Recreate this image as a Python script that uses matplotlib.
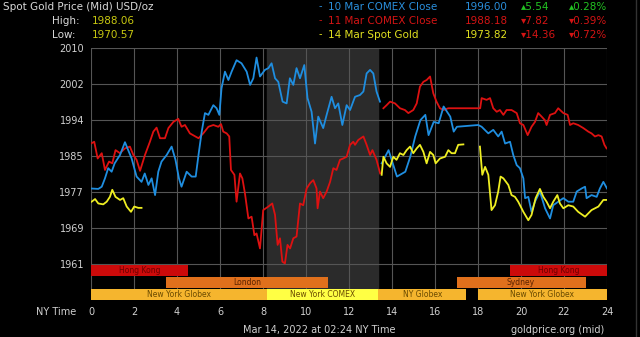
import numpy as np
import matplotlib
matplotlib.use('Agg')
import matplotlib.pyplot as plt

nan = np.nan

# 10 Mar COMEX close (hour NY time, USD/oz)
blue_pts = [
    (0, 1978.2), (0.34, 1978.1), (0.5, 1978.6), (0.65, 1980.5), (0.8, 1982.8), (0.96, 1982),
    (1.1, 1983.9), (1.35, 1985.8), (1.58, 1988.7), (1.73, 1986.9), (1.89, 1985), (2.12, 1980.9),
    (2.35, 1979.7), (2.5, 1981.6), (2.67, 1979), (2.82, 1980.5), (2.98, 1976.7), (3.13, 1982),
    (3.28, 1984.3), (3.52, 1985.8), (3.75, 1987.7), (3.93, 1984.7), (4.09, 1980.5), (4.21, 1978.6),
    (4.45, 1982), (4.68, 1980.9), (4.87, 1980.9), (5.0, 1985.8), (5.15, 1991.1), (5.3, 1995.3),
    (5.46, 1994.9), (5.69, 1997.1), (5.84, 1996.4), (5.97, 1994.9), (6.07, 2000.9), (6.23, 2004.7),
    (6.39, 2002.8), (6.54, 2004.7), (6.77, 2007.3), (7.0, 2006.6), (7.24, 2004.7), (7.4, 2001.7),
    (7.55, 2003.2), (7.7, 2007.9), (7.86, 2003.6), (8.09, 2005.1), (8.25, 2005.5), (8.4, 2006.6),
    (8.56, 2003.2), (8.71, 2002.4), (8.91, 1997.9), (9.1, 1997.5), (9.25, 2003.2), (9.41, 2001.7),
    (9.56, 2005.5), (9.72, 2003.2), (9.92, 2006.2), (10.07, 1998.7), (10.26, 1995.6), (10.42, 1988.4),
    (10.57, 1994.5), (10.8, 1991.9), (10.96, 1994.9), (11.19, 1999), (11.35, 1996.4), (11.5, 1997.5),
    (11.69, 1992.6), (11.89, 1997.1), (12.05, 1996), (12.28, 1999), (12.51, 1999.4), (12.67, 2000.2),
    (12.82, 2004.3), (12.98, 2005.1), (13.13, 2004.3), (13.28, 2000.2), (13.44, 1997.9),
    (nan, nan),
    (13.52, 1983.9), (13.84, 1986.9), (14.23, 1980.9), (14.62, 1982), (14.85, 1985.4), (15.08, 1990),
    (15.32, 1993.7), (15.55, 1994.9), (15.7, 1990.3), (15.94, 1993.3), (16.17, 1993), (16.4, 1996.8),
    (16.56, 1995.6), (16.71, 1994.5), (16.87, 1991.1), (17.02, 1992.2), (18.01, 1992.6), (18.17, 1992.2),
    (18.48, 1990.7), (18.71, 1991.5), (18.94, 1990), (19.1, 1991.1), (19.26, 1988.4), (19.49, 1988.8),
    (19.64, 1985.8), (19.8, 1983.5), (19.95, 1982.8), (20.11, 1980.5), (20.19, 1976), (20.34, 1976.3),
    (20.49, 1972.9), (20.65, 1975.2), (20.88, 1977.5), (21.12, 1973.7), (21.35, 1971.4), (21.5, 1974.4),
    (21.73, 1975.2), (21.97, 1976), (22.2, 1975.2), (22.43, 1975.2), (22.59, 1977.5), (22.82, 1978.2),
    (22.98, 1978.6), (23.05, 1976), (23.28, 1976.7), (23.52, 1976.3), (23.67, 1978.2), (23.83, 1979.7),
    (24, 1978.2),
]

# 11 Mar COMEX close
red_pts = [
    (0, 1988.4), (0.15, 1988.8), (0.31, 1985), (0.5, 1986.2), (0.65, 1982.4), (0.84, 1984.3),
    (0.99, 1983.9), (1.14, 1986.9), (1.35, 1986.2), (1.58, 1987.3), (1.81, 1987.7), (1.97, 1985.8),
    (2.12, 1984.7), (2.28, 1982.2), (2.51, 1985.8), (2.74, 1988.8), (2.9, 1991.1), (3.05, 1992),
    (3.21, 1989.6), (3.44, 1989.6), (3.6, 1991.9), (3.83, 1993.3), (4.06, 1994), (4.21, 1992.2),
    (4.37, 1992.6), (4.6, 1990.7), (4.85, 1990), (5.0, 1989.6), (5.22, 1990.7), (5.46, 1992.2),
    (5.69, 1992.6), (5.92, 1992.2), (6.05, 1992.8), (6.15, 1991.1), (6.31, 1990.7), (6.43, 1990),
    (6.51, 1982.4), (6.67, 1981.3), (6.77, 1975.2), (6.93, 1981.6), (7.04, 1980.5), (7.16, 1977.1),
    (7.32, 1971.4), (7.47, 1971.8), (7.6, 1967.6), (7.7, 1968), (7.86, 1964.6), (8.01, 1973.3),
    (8.25, 1974.1), (8.43, 1974.8), (8.56, 1972.2), (8.68, 1965.4), (8.79, 1966.9), (8.9, 1961.6),
    (9.02, 1961.2), (9.14, 1965.4), (9.26, 1964.6), (9.41, 1966.9), (9.56, 1967.3), (9.72, 1974.8),
    (9.87, 1974.4), (10.03, 1978.2), (10.19, 1979.4), (10.34, 1980.1), (10.49, 1978.2), (10.54, 1973.7),
    (10.65, 1977.5), (10.8, 1976), (10.96, 1977.5), (11.12, 1979.7), (11.27, 1982.8), (11.42, 1982.4),
    (11.58, 1984.7), (11.73, 1985), (11.89, 1985.4), (12.05, 1988.1), (12.2, 1988.8), (12.28, 1988.1),
    (12.43, 1989.2), (12.67, 1990), (12.82, 1988.1), (12.98, 1985.8), (13.09, 1986.9), (13.28, 1984.7),
    (13.45, 1981.6),
    (nan, nan),
    (13.6, 1996.4), (13.75, 1997.1), (13.91, 1997.9), (14.14, 1997.5), (14.37, 1996.4), (14.6, 1996),
    (14.76, 1995.3), (14.99, 1996), (15.15, 1997.5), (15.3, 2001.3), (15.46, 2002.4), (15.61, 2002.8),
    (15.77, 2003.6), (15.92, 1999.8), (16.07, 1997.9), (16.23, 1996.4), (16.39, 1996), (16.62, 1996.4),
    (18.1, 1996.4), (18.17, 1998.7), (18.4, 1998.3), (18.56, 1998.7), (18.71, 1996.4), (18.87, 1995.6),
    (19.02, 1996), (19.18, 1994.9), (19.33, 1996), (19.56, 1996), (19.8, 1995.3), (19.95, 1993),
    (20.11, 1992.6), (20.31, 1990.3), (20.49, 1992.2), (20.65, 1993.3), (20.8, 1995.3), (20.96, 1994.5),
    (21.11, 1993.7), (21.19, 1992.6), (21.35, 1994.9), (21.58, 1995.3), (21.73, 1996.4), (21.97, 1995.3),
    (22.17, 1994.9), (22.28, 1992.6), (22.43, 1993), (22.66, 1992.6), (22.9, 1991.9), (23.13, 1991.1),
    (23.28, 1990.7), (23.44, 1990), (23.6, 1990.3), (23.75, 1990), (23.88, 1988.1), (23.98, 1987.3),
]

# 14 Mar spot gold
yellow_pts = [
    (0.03, 1975.2), (0.19, 1975.8), (0.34, 1974.8), (0.57, 1974.6), (0.73, 1975.2), (0.88, 1976.3),
    (0.99, 1977.9), (1.14, 1976.3), (1.35, 1975.6), (1.5, 1976), (1.66, 1974.1), (1.86, 1972.9),
    (2.01, 1974.1), (2.2, 1973.8), (2.35, 1973.8),
    (nan, nan),
    (13.52, 1981.3), (13.6, 1985.4), (13.75, 1983.9), (13.91, 1983.1), (14.06, 1985.4), (14.21, 1984.7),
    (14.37, 1986.2), (14.53, 1985.8), (14.68, 1986.9), (14.84, 1987.7), (14.99, 1986.2), (15.15, 1987.3),
    (15.3, 1988.1), (15.46, 1986.5), (15.61, 1983.9), (15.77, 1986.5), (15.92, 1985.8), (16.03, 1983.9),
    (16.23, 1985), (16.47, 1985.4), (16.62, 1986.9), (16.77, 1986.2), (16.93, 1986.2), (17.08, 1988.1),
    (17.32, 1988.2),
    (nan, nan),
    (18.09, 1987.7), (18.2, 1981.3), (18.33, 1983.1), (18.48, 1981.3), (18.63, 1973.3), (18.79, 1974.4),
    (18.94, 1977.5), (19.05, 1980.9), (19.18, 1980.5), (19.41, 1979), (19.56, 1976.7), (19.72, 1976.3),
    (19.87, 1975.2), (20.11, 1972.9), (20.34, 1971), (20.49, 1972.2), (20.68, 1976), (20.88, 1978.1),
    (21.04, 1976.3), (21.19, 1975.2), (21.35, 1973.7), (21.5, 1975.2), (21.69, 1976.7), (21.81, 1974.8),
    (21.97, 1973.7), (22.2, 1974.4), (22.43, 1974.1), (22.66, 1972.9), (22.98, 1971.8), (23.28, 1973.3),
    (23.6, 1974.1), (23.83, 1975.6), (23.98, 1975.6),
]

y_ticks = [1961, 1969.17, 1977.33, 1985.5, 1993.67, 2001.83, 2010]
y_labels = ['1961', '1969', '1977', '1985', '1994', '2002', '2010']
x_ticks = list(range(0, 25, 2))

# market sessions (start hour, end hour, label)
hk_sessions = [(0, 4.5, 'Hong Kong'), (19.5, 24, 'Hong Kong')]
mid_sessions = [(3.5, 11, 'London'), (17, 23, 'Sydney')]
ny_sessions = [(0, 8.2, 'New York Globex'), (8.2, 13.37, 'New York COMEX'),
               (13.37, 17.45, 'NY Globex'), (18, 24, 'New York Globex')]
comex_hours = (8.2, 13.37)

legend_rows = [
    ('10 Mar COMEX Close', '1996.00', '\u25b45.54', '\u25b40.28%', '#2a8fdc', '#22c322'),
    ('11 Mar COMEX Close', '1988.18', '\u25be7.82', '\u25be0.39%', '#d41414', '#d41414'),
    ('14 Mar Spot Gold', '1973.82', '\u25be14.36', '\u25be0.72%', '#e0e020', '#d41414'),
]

W, H = 640, 337
fig = plt.figure(figsize=(W / 100, H / 100), dpi=100, facecolor='black')
ax = fig.add_axes([91 / W, 1 - 300 / H, (607 - 91) / W, (300 - 48.3) / H])
ax.set_facecolor('black')

ax.set_xlim(0, 24)
ax.set_ylim(1952.9, 2010)

# grid
for t in x_ticks:
    ax.axvline(t, color='#555555', lw=0.8, zorder=1)
for t in y_ticks:
    ax.axhline(t, color='#555555', lw=0.8, zorder=1)

ax.axvspan(*comex_hours, color='#2b2b2b', zorder=0)

# session bands
def draw_band(sessions, y0, y1, colors, tcolor):
    for (s, e, name), c in zip(sessions, colors):
        ax.broken_barh([(s, e - s)], (y0, y1 - y0), facecolors=c, zorder=2)
        ax.text((s + e) / 2, (y0 + y1) / 2, name, ha='center', va='center',
                fontsize=5.5, color=tcolor, zorder=3)

draw_band(hk_sessions, 1958.35, 1960.9, ['#cc0a0a', '#cc0a0a'], '#6a0000')
draw_band(mid_sessions, 1955.7, 1958.05, ['#e0701c', '#e0701c'], '#5a2200')
draw_band(ny_sessions, 1952.9, 1955.45, ['#f5b52e', '#ffff44', '#f5b52e', '#f5b52e'], '#6a4a00')

for pts, col in [(red_pts, '#dd1111'), (blue_pts, '#1f8ee0'), (yellow_pts, '#eeee22')]:
    hrs = [p[0] for p in pts]
    vals = [p[1] for p in pts]
    ax.plot(hrs, vals, color=col, lw=1.3, zorder=4, solid_joinstyle='round')

for sp in ax.spines.values():
    sp.set_visible(False)

ax.set_xticks(x_ticks)
ax.set_xticklabels([str(t) for t in x_ticks])
ax.set_yticks(y_ticks)
ax.set_yticklabels(y_labels)
ax.tick_params(length=0, colors='#d0d0d0', labelsize=7)
ax.tick_params(axis='x', pad=5)
ax.tick_params(axis='y', pad=5)

def ftext(x, y, s, **kw):
    kw.setdefault('fontsize', 7)
    kw.setdefault('va', 'center')
    fig.text(x / W, 1 - y / H, s, **kw)

ftext(76, 312, 'NY Time', ha='right', color='#d0d0d0')
ftext(3, 7, 'Spot Gold Price (Mid) USD/oz', color='#d8d8d8', fontsize=7.5)
ftext(52, 21, 'High:', color='#d8d8d8', fontsize=7.5)
ftext(92, 21, '1988.06', color='#c8c810', fontsize=7.5)
ftext(52, 35, 'Low:', color='#d8d8d8', fontsize=7.5)
ftext(92, 35, '1970.57', color='#c8c810', fontsize=7.5)

for i, (name, val, chg, pct, col, ccol) in enumerate(legend_rows):
    y = 6.5 + i * 14
    ftext(319, y, '-', color=col)
    ftext(328, y, name, color=col, fontsize=7.5)
    ftext(465, y, val, color=col, fontsize=7.5)
    ftext(521, y, chg, color=ccol, fontsize=7.5)
    ftext(569, y, pct, color=ccol, fontsize=7.5)

ftext(319, 330, 'Mar 14, 2022 at 02:24 NY Time', ha='center', color='#d0d0d0')
ftext(558, 330, 'goldprice.org (mid)', ha='center', color='#d0d0d0')

fig.add_artist(plt.Line2D([636 / W, 636 / W], [0, 1], color='#333333', lw=1))

fig.savefig('out.png', dpi=100, facecolor='black')
